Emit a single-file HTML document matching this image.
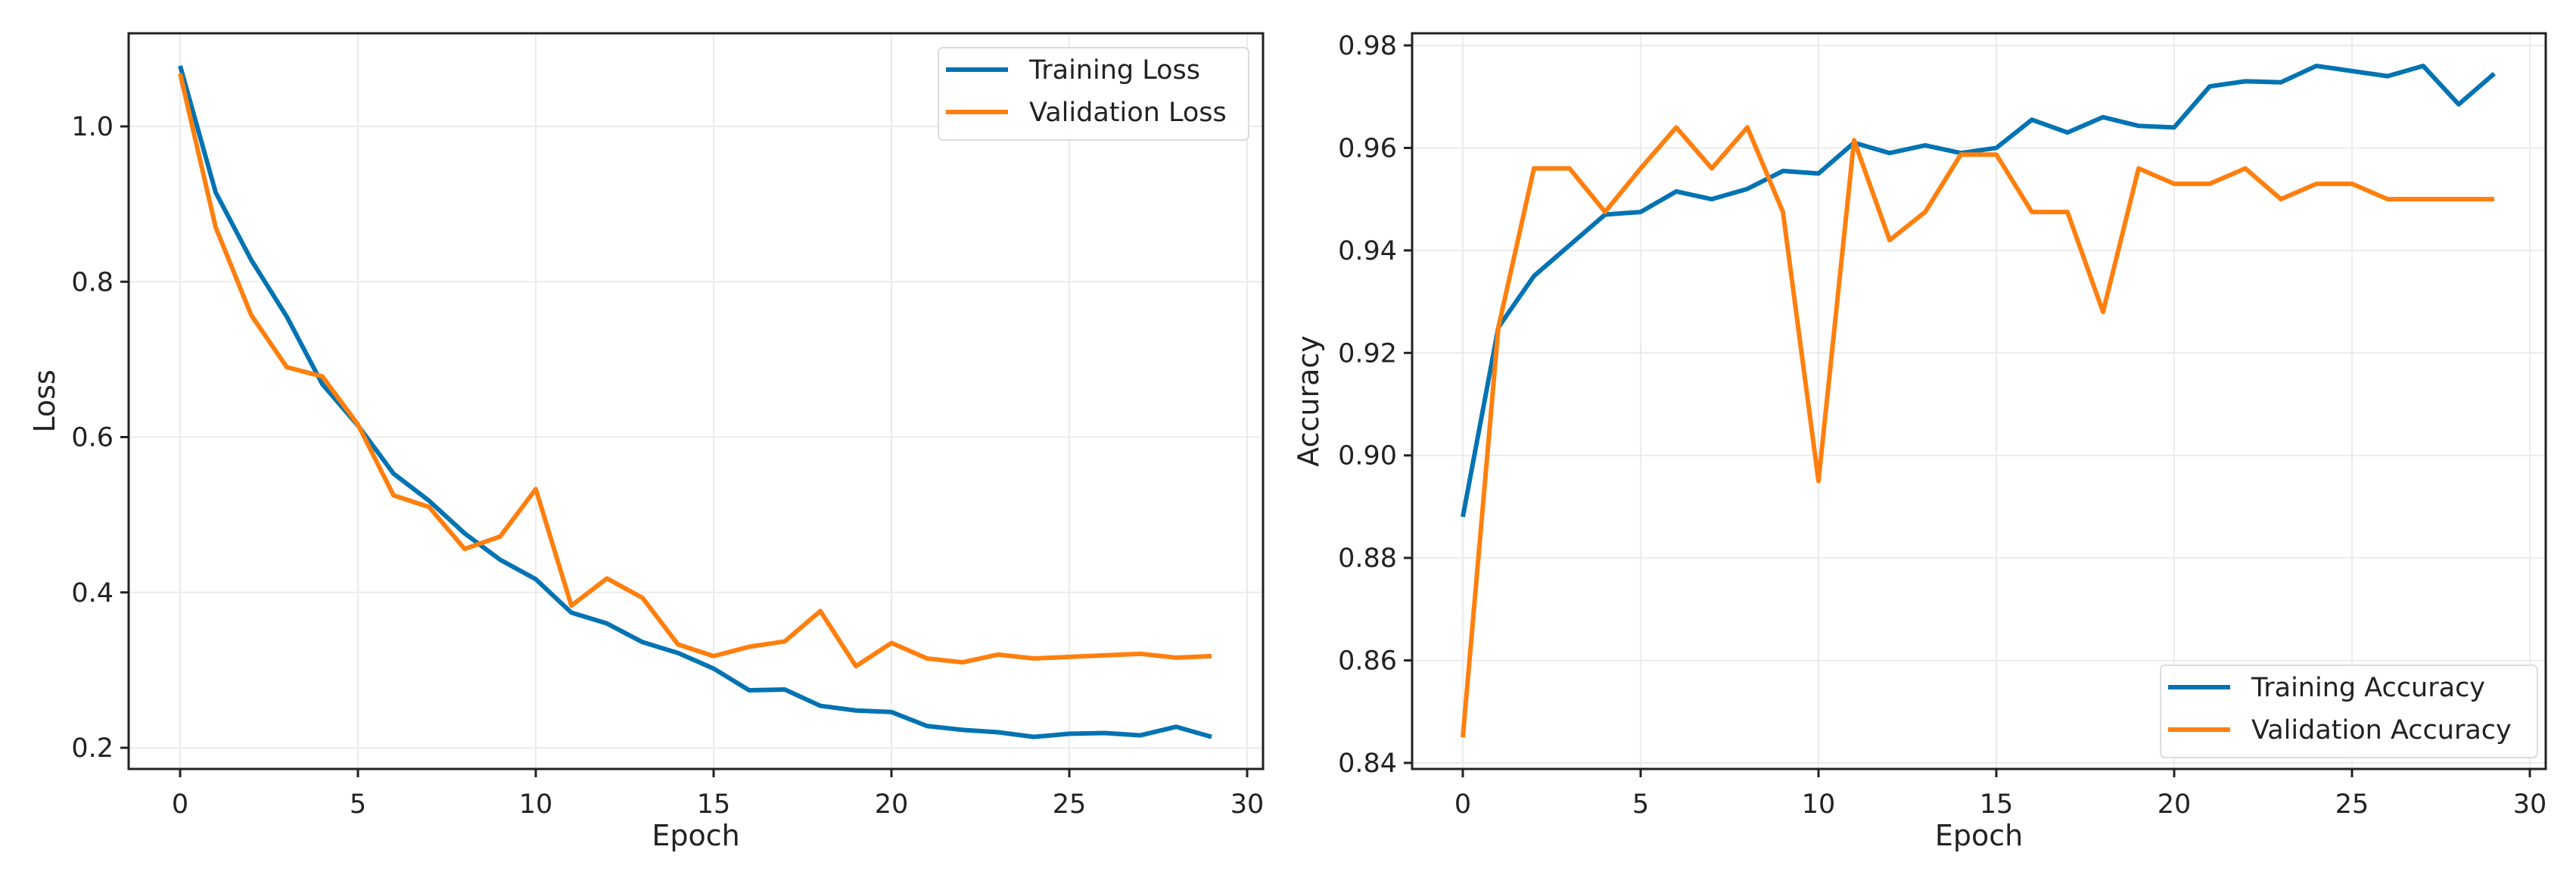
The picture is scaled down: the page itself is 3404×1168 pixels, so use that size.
<!DOCTYPE html>
<html><head><meta charset="utf-8"><style>
html,body{margin:0;padding:0;background:#fff;}
svg{display:block;font-family:"DejaVu Sans","Liberation Sans",sans-serif;}
</style></head><body>
<svg id="fig" width="3404" height="1168" viewBox="0 0 3404 1168" xmlns="http://www.w3.org/2000/svg"></svg>
<script>
const epochs = [0,1,2,3,4,5,6,7,8,9,10,11,12,13,14,15,16,17,18,19,20,21,22,23,24,25,26,27,28,29];
const trainLoss = [1.078,0.915,0.828,0.755,0.668,0.615,0.553,0.518,0.476,0.442,0.417,0.374,0.360,0.336,0.322,0.302,0.274,0.275,0.254,0.248,0.246,0.228,0.223,0.220,0.214,0.218,0.219,0.216,0.227,0.214];
const valLoss = [1.068,0.870,0.757,0.690,0.678,0.616,0.525,0.510,0.456,0.472,0.533,0.383,0.418,0.393,0.333,0.318,0.330,0.337,0.376,0.305,0.335,0.315,0.310,0.320,0.315,0.317,0.319,0.321,0.316,0.318];
const trainAcc = [0.888,0.925,0.935,0.941,0.947,0.9475,0.9515,0.950,0.952,0.9555,0.955,0.961,0.959,0.9605,0.959,0.960,0.9655,0.963,0.966,0.9643,0.964,0.972,0.973,0.9728,0.976,0.975,0.974,0.976,0.9685,0.9745];
const valAcc = [0.845,0.925,0.956,0.956,0.9475,0.956,0.964,0.956,0.964,0.9475,0.895,0.9615,0.942,0.9475,0.9587,0.9587,0.9475,0.9475,0.928,0.956,0.953,0.953,0.956,0.950,0.953,0.953,0.950,0.950,0.950,0.950];
const xTicks = [0,5,10,15,20,25,30];
const lossTicks = [0.2,0.4,0.6,0.8,1.0];
const accTicks = [0.84,0.86,0.88,0.90,0.92,0.94,0.96,0.98];

const NS="http://www.w3.org/2000/svg";
const svg=document.getElementById('fig');
function mk(tag,attrs,parent){const e=document.createElementNS(NS,tag);for(const k in attrs)e.setAttribute(k,attrs[k]);(parent||svg).appendChild(e);return e;}

function panel(cfg){
  const g=mk('g',{});
  
  
  const X=v=>cfg.x0+(v-0)*(cfg.x30-cfg.x0)/30;
  const Y=v=>cfg.yA+(v-cfg.vA)*(cfg.yB-cfg.yA)/(cfg.vB-cfg.vA);
  // grid
  xTicks.forEach(t=>{const l=mk('line',{x1:X(t),x2:X(t),y1:cfg.top,y2:cfg.bottom,stroke:'#ebebeb','stroke-width':2},g);
    
    });
  cfg.yTicks.forEach(t=>{const l=mk('line',{x1:cfg.left,x2:cfg.right,y1:Y(t),y2:Y(t),stroke:'#ebebeb','stroke-width':2},g);
    
    });
  // series
  cfg.series.forEach(s=>{
    const p=mk('polyline',{points:epochs.map((e,i)=>X(e)+','+Y(s.data[i])).join(' '),fill:'none',stroke:s.color,'stroke-width':6,'stroke-linejoin':'round'},g);
    
    
  });
  // frame
  const fr=mk('rect',{x:cfg.left,y:cfg.top,width:cfg.right-cfg.left,height:cfg.bottom-cfg.top,fill:'none',stroke:'#222','stroke-width':3},g);
  
  
  // ticks
  xTicks.forEach(t=>{mk('line',{x1:X(t),x2:X(t),y1:cfg.bottom,y2:cfg.bottom+11,stroke:'#222','stroke-width':3},g);
    const tx=mk('text',{x:X(t),y:cfg.bottom+58,'font-size':35,'text-anchor':'middle',fill:'#222'},g);tx.textContent=t;
    
    });
  cfg.yTicks.forEach(t=>{mk('line',{x1:cfg.left-11,x2:cfg.left,y1:Y(t),y2:Y(t),stroke:'#222','stroke-width':3},g);
    const tx=mk('text',{x:cfg.left-20,y:Y(t)+12,'font-size':35,'text-anchor':'end',fill:'#222'},g);tx.textContent=t.toFixed(cfg.dec);
    
    });
  const xl=mk('text',{x:(cfg.left+cfg.right)/2,y:1117,'font-size':38,'text-anchor':'middle',fill:'#222'},g);xl.textContent='Epoch';
  
  
  const yl=mk('text',{x:0,y:0,'font-size':38,'text-anchor':'middle',fill:'#222',transform:`translate(${cfg.ylx},${(cfg.top+cfg.bottom)/2}) rotate(-90)`},g);yl.textContent=cfg.ylabel;
  
  
  // legend
  const L=cfg.leg;
  const lg=mk('g',{},g);
  
  
  mk('rect',{x:L.x,y:L.y,width:L.w,height:122,rx:6,fill:'#fff','fill-opacity':0.85,stroke:'#dcdcdc','stroke-width':2},lg);
  cfg.series.forEach((s,i)=>{
    const yy=L.y+29+i*56;
    const ln=mk('line',{x1:L.x+10,x2:L.x+92,y1:yy,y2:yy,stroke:s.color,'stroke-width':6},lg);
    
    
    const t=mk('text',{x:L.x+120,y:yy+12,'font-size':35,fill:'#222'},lg);t.textContent=s.label;
    
    
  });
}
const BLUE='#0173b2', ORANGE='#ff7f0e';
panel({name:'loss-chart',left:170,right:1669,top:44,bottom:1016,x0:238,x30:1648,yA:167,vA:1.0,yB:988,vB:0.2,yTicks:lossTicks,dec:1,ylabel:'Loss',ylx:72,
  leg:{x:1240,y:63,w:410},
  series:[{id:'training-loss-line',label:'Training Loss',data:trainLoss,color:BLUE},{id:'validation-loss-line',label:'Validation Loss',data:valLoss,color:ORANGE}]});
panel({name:'accuracy-chart',left:1866,right:3364,top:44,bottom:1016,x0:1933,x30:3343,yA:60,vA:0.98,yB:1008,vB:0.84,yTicks:accTicks,dec:2,ylabel:'Accuracy',ylx:1742,
  leg:{x:2855,y:879,w:498},
  series:[{id:'training-accuracy-line',label:'Training Accuracy',data:trainAcc,color:BLUE},{id:'validation-accuracy-line',label:'Validation Accuracy',data:valAcc,color:ORANGE}]});
</script>
</body></html>
